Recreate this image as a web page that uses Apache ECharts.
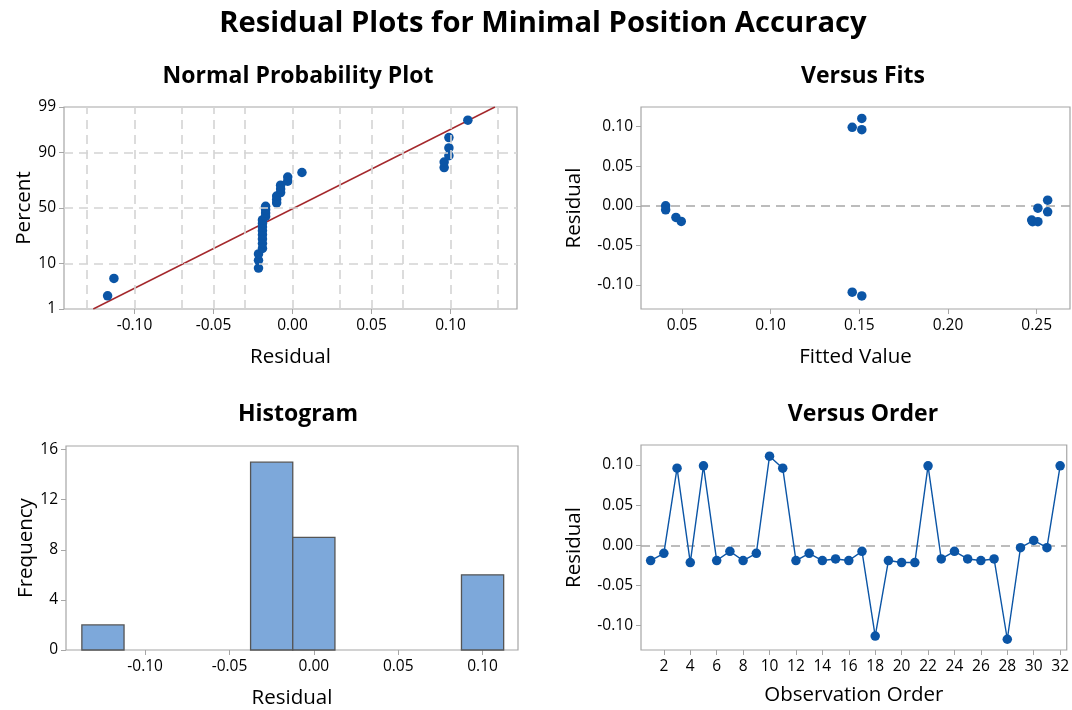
<!DOCTYPE html>
<html>
<head>
<meta charset="utf-8">
<script src="https://cdn.jsdelivr.net/npm/echarts@6/dist/echarts.min.js"></script>
<style>
html,body{margin:0;padding:0;background:#fff;}
#c{width:1072px;height:710px;}
</style>
</head>
<body>
<div id="c"></div>
<script>
// ---------- data ----------
const residuals = [
  -0.019, -0.010, 0.096, -0.0215, 0.099, -0.019, -0.0075, -0.019,
  -0.010, 0.111, 0.096, -0.019, -0.010, -0.019, -0.017, -0.019,
  -0.0075, -0.113, -0.019, -0.0215, -0.0215, 0.099, -0.017, -0.0075,
  -0.017, -0.019, -0.017, -0.117, -0.003, 0.006, -0.003, 0.099
];
const fittedValues = [0.0408, 0.0408, 0.0466, 0.0496, 0.146, 0.1514, 0.1514, 0.146, 0.1514,
  0.2472, 0.2477, 0.2507, 0.2507, 0.2562, 0.2562];
const fitsResiduals = [0.000, -0.005, -0.0147, -0.0197, 0.0992, 0.1105, 0.0962, -0.1092, -0.1139,
  -0.018, -0.020, -0.003, -0.020, 0.0071, -0.0076];
const histBinCenters = [-0.125, -0.025, 0.000, 0.100];
const histCounts = [2, 15, 9, 6];
const histBinWidth = 0.025;

const residTicks = [-0.10, -0.05, 0.00, 0.05, 0.10];
const percentTicks = [1, 10, 50, 90, 99];
const percentGrid = [10, 50, 90];
const normGridX = [-0.125, -0.100, -0.075, -0.050, -0.025, 0.000, 0.025, 0.050, 0.075, 0.100, 0.125];
const fitsTicks = [0.05, 0.10, 0.15, 0.20, 0.25];
const freqTicks = [0, 4, 8, 12, 16];
const orderTicks = [2, 4, 6, 8, 10, 12, 14, 16, 18, 20, 22, 24, 26, 28, 30, 32];

// ---------- helpers ----------
function qnorm(p) {
  const a = [-3.969683028665376e+01, 2.209460984245205e+02, -2.759285104469687e+02, 1.383577518672690e+02, -3.066479806614716e+01, 2.506628277459239e+00];
  const b = [-5.447609879822406e+01, 1.615858368580409e+02, -1.556989798598866e+02, 6.680131188771972e+01, -1.328068155288572e+01];
  const c = [-7.784894002430293e-03, -3.223964580411365e-01, -2.400758277161838e+00, -2.549732539343734e+00, 4.374664141464968e+00, 2.938163982698783e+00];
  const d = [7.784695709041462e-03, 3.224671290700398e-01, 2.445134137142996e+00, 3.754408661907416e+00];
  const pl = 0.02425, ph = 1 - pl;
  let q, r;
  if (p < pl) {
    q = Math.sqrt(-2 * Math.log(p));
    return (((((c[0]*q+c[1])*q+c[2])*q+c[3])*q+c[4])*q+c[5]) / ((((d[0]*q+d[1])*q+d[2])*q+d[3])*q+1);
  } else if (p <= ph) {
    q = p - 0.5; r = q * q;
    return (((((a[0]*r+a[1])*r+a[2])*r+a[3])*r+a[4])*r+a[5])*q / (((((b[0]*r+b[1])*r+b[2])*r+b[3])*r+b[4])*r+1);
  } else {
    q = Math.sqrt(-2 * Math.log(1 - p));
    return -(((((c[0]*q+c[1])*q+c[2])*q+c[3])*q+c[4])*q+c[5]) / ((((d[0]*q+d[1])*q+d[2])*q+d[3])*q+1);
  }
}

const n = residuals.length;
const sorted = residuals.slice().sort((x, y) => x - y);
const normPoints = sorted.map((r, i) => [r, qnorm((i + 1 - 0.3) / (n + 0.4))]);
const mean = residuals.reduce((s, v) => s + v, 0) / n;
const sd = Math.sqrt(residuals.reduce((s, v) => s + (v - mean) * (v - mean), 0) / (n - 1));
const zLo = qnorm(0.01), zHi = qnorm(0.99);
const fitLine = [[mean + sd * zLo, zLo], [mean + sd * zHi, zHi]];
const zPercentTicks = percentTicks.map(p => qnorm(p / 100));

const FONT = 'Open Sans';
const BLUE = '#0b55a6';
const GRAYLINE = '#a6a6a6';
const tickLabel = { fontFamily: FONT, fontSize: 15.5, color: '#000' };
const nameStyle = { fontFamily: FONT, fontSize: 20.5, color: '#000' };

function fmt2(v) { return (Math.abs(v) < 1e-9 ? 0 : v).toFixed(2); }

function xAx(gi, min, max, ticks, formatter, name, nameGap) {
  return {
    type: 'value', gridIndex: gi, min: min, max: max,
    name: name, nameLocation: 'middle', nameGap: nameGap, nameTextStyle: nameStyle,
    axisLine: { show: false, onZero: false },
    axisTick: { show: true, inside: false, length: 5, customValues: ticks, lineStyle: { color: GRAYLINE } },
    axisLabel: Object.assign({ show: true, margin: 9, customValues: ticks, formatter: formatter }, tickLabel),
    splitLine: { show: false }
  };
}
function yAx(gi, min, max, ticks, formatter, name, nameGap) {
  return {
    type: 'value', gridIndex: gi, min: min, max: max,
    name: name, nameLocation: 'middle', nameGap: nameGap, nameTextStyle: nameStyle, nameRotate: 90,
    axisLine: { show: false, onZero: false },
    axisTick: { show: true, inside: false, length: 5, customValues: ticks, lineStyle: { color: GRAYLINE } },
    axisLabel: Object.assign({ show: true, margin: 8, customValues: ticks, formatter: formatter }, tickLabel),
    splitLine: { show: false }
  };
}

const gridStyle = { show: true, borderColor: GRAYLINE, borderWidth: 1.2, backgroundColor: '#fff', containLabel: false };
const subTitle = (text, x, y) => ({ text: text, left: x, top: y, textAlign: 'center',
  textStyle: { fontFamily: FONT, fontSize: 23, fontWeight: 'bold', color: '#000' } });

const option = {
  animation: false,
  backgroundColor: '#fff',
  title: [
    { text: 'Residual Plots for Minimal Position Accuracy', left: 538, top: 4, textAlign: 'center',
      textStyle: { fontFamily: FONT, fontSize: 29.2, fontWeight: 'bold', color: '#000' } },
    subTitle('Normal Probability Plot', 293, 60),
    subTitle('Versus Fits', 858, 60),
    subTitle('Histogram', 293, 398),
    subTitle('Versus Order', 858, 398)
  ],
  grid: [
    Object.assign({ left: 64, top: 107, width: 453, height: 202 }, gridStyle),
    Object.assign({ left: 641, top: 107, width: 429, height: 202 }, gridStyle),
    Object.assign({ left: 66, top: 446, width: 452, height: 205 }, gridStyle),
    Object.assign({ left: 641, top: 445, width: 429, height: 205 }, gridStyle)
  ],
  xAxis: [
    xAx(0, -0.1446, 0.1421, residTicks, fmt2, 'Residual', 38),
    xAx(1, 0.0269, 0.2688, fitsTicks, fmt2, 'Fitted Value', 38),
    xAx(2, -0.1469, 0.121, residTicks, fmt2, 'Residual', 38),
    xAx(3, 0.27, 32.5, orderTicks, v => String(v), 'Observation Order', 35)
  ],
  yAxis: [
    yAx(0, zLo, zHi, zPercentTicks, v => {
      let best = 0;
      zPercentTicks.forEach((z, i) => { if (Math.abs(z - v) < Math.abs(zPercentTicks[best] - v)) best = i; });
      return String(percentTicks[best]);
    }, 'Percent', 21),
    yAx(1, -0.1304, 0.1249, residTicks, fmt2, 'Residual', 56),
    yAx(2, 0, 16.29, freqTicks, v => String(v), 'Frequency', 29),
    yAx(3, -0.1304, 0.1249, residTicks, fmt2, 'Residual', 56)
  ],
  series: [
    // normal plot grid lines
    {
      type: 'line', xAxisIndex: 0, yAxisIndex: 0, data: [], silent: true, z: 1,
      markLine: {
        silent: true, symbol: 'none', label: { show: false },
        lineStyle: { color: '#d4d4d4', type: [9, 6], width: 1.6 },
        data: normGridX.map(v => ({ xAxis: v })).concat(percentGrid.map(p => ({ yAxis: qnorm(p / 100) })))
      }
    },
    {
      type: 'line', xAxisIndex: 0, yAxisIndex: 0, data: fitLine, symbol: 'none', z: 2,
      lineStyle: { color: '#a4282c', width: 1.4 }, silent: true
    },
    {
      type: 'scatter', xAxisIndex: 0, yAxisIndex: 0, data: normPoints, symbolSize: 9.5, z: 3,
      itemStyle: { color: BLUE, opacity: 1 }
    },
    // versus fits
    {
      type: 'scatter', xAxisIndex: 1, yAxisIndex: 1, z: 3,
      data: fittedValues.map((f, i) => [f, fitsResiduals[i]]), symbolSize: 9.5,
      itemStyle: { color: BLUE, opacity: 1 },
      markLine: {
        silent: true, symbol: 'none', label: { show: false }, z: 1,
        lineStyle: { color: GRAYLINE, type: [9, 6], width: 1.6 },
        data: [{ yAxis: 0 }]
      }
    },
    // histogram
    {
      type: 'custom', xAxisIndex: 2, yAxisIndex: 2,
      data: histBinCenters.map((c, i) => [c, histCounts[i]]),
      renderItem: function (params, api) {
        const c = api.value(0), h = api.value(1);
        const p0 = api.coord([c - histBinWidth / 2, h]);
        const p1 = api.coord([c + histBinWidth / 2, 0]);
        return {
          type: 'rect',
          shape: { x: p0[0], y: p0[1], width: p1[0] - p0[0], height: p1[1] - p0[1] },
          style: { fill: '#7da8da', stroke: '#555', lineWidth: 1.3 }
        };
      }
    },
    // versus order
    {
      type: 'line', xAxisIndex: 3, yAxisIndex: 3, z: 3,
      data: residuals.map((r, i) => [i + 1, r]),
      symbol: 'circle', symbolSize: 9.5, showAllSymbol: true,
      lineStyle: { color: BLUE, width: 1.4 },
      itemStyle: { color: BLUE },
      markLine: {
        silent: true, symbol: 'none', label: { show: false }, z: 1,
        lineStyle: { color: GRAYLINE, type: [9, 6], width: 1.6 },
        data: [{ yAxis: 0 }]
      }
    }
  ]
};

const chart = echarts.init(document.getElementById('c'), null, { renderer: 'canvas' });
chart.setOption(option);
</script>
</body>
</html>
